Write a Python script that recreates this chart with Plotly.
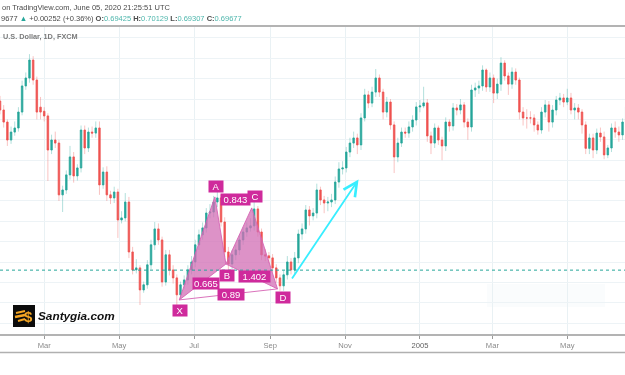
import pandas as pd
import plotly.graph_objects as go

symbol_header = "on TradingView.com, June 05, 2020 21:25:51 UTC"
symbol_name = "U.S. Dollar, 1D, FXCM"

opens = [
.7790,.7746,.7687,.7599,.7638,.7658,.7736,.7864,.7903,.7991,
.7893,.7760,.7740,.7717,.7550,.7599,.7584,.7330,.7354,.7428,
.7516,.7423,.7462,.7648,.7560,.7638,.7633,.7658,.7379,.7442,
.7330,.7315,.7344,.7207,.7217,.7295,.7050,.6962,.6972,.6864,
.6889,.6987,.7085,.7163,.7109,.6903,.7036,.6962,.6923,.6840,
.6889,.6913,.6962,.7001,.7085,.7134,.7168,.7241,.7246,.7295,
.7315,.7197,.7050,.6991,.7036,.7060,.7109,.7148,.7168,.7178,
.7261,.7148,.7036,.7031,.7021,.6972,.6923,.6884,.6938,.7001,
.6962,.7021,.7138,.7163,.7256,.7227,.7241,.7354,.7305,.7290,
.7295,.7305,.7393,.7457,.7462,.7540,.7584,.7609,.7575,.7707,
.7820,.7780,.7834,.7903,.7834,.7736,.7785,.7673,.7516,.7584,
.7638,.7633,.7663,.7697,.7761,.7766,.7781,.7619,.7584,.7658,
.7599,.7570,.7687,.7668,.7756,.7746,.7771,.7687,.7663,.7844,
.7854,.7864,.7942,.7859,.7903,.7829,.7873,.7976,.7913,.7873,
.7932,.7893,.7736,.7707,.7707,.7707,.7673,.7648,.7736,.7771,
.7687,.7746,.7795,.7805,.7785,.7805,.7746,.7756,.7736,.7673,
.7558,.7609,.7550,.7633,.7614,.7526,.7560,.7658,.7638,.7624,
.7687]
highs = [
.7815,.7770,.7700,.7665,.7690,.7760,.7890,.7930,.8020,.8010,
.7910,.7810,.7760,.7730,.7625,.7640,.7600,.7375,.7450,.7570,
.7540,.7480,.7670,.7670,.7660,.7665,.7690,.7690,.7465,.7470,
.7350,.7370,.7360,.7250,.7339,.7320,.7075,.7015,.6985,.6905,
.7010,.7110,.7197,.7190,.7125,.7060,.7060,.6985,.6940,.6905,
.6935,.6985,.7030,.7110,.7160,.7195,.7265,.7285,.7325,.7345,
.7330,.7220,.7075,.7060,.7085,.7135,.7170,.7195,.7215,.7295,
.7275,.7165,.7065,.7050,.7040,.6990,.6940,.6960,.7030,.7020,
.7050,.7160,.7190,.7280,.7275,.7265,.7385,.7370,.7325,.7320,
.7335,.7420,.7490,.7495,.7565,.7610,.7640,.7630,.7730,.7850,
.7840,.7860,.7947,.7920,.7850,.7810,.7800,.7690,.7610,.7660,
.7660,.7690,.7720,.7785,.7795,.7860,.7800,.7640,.7680,.7670,
.7615,.7710,.7700,.7780,.7775,.7800,.7785,.7705,.7870,.7880,
.7890,.7965,.7950,.7930,.7920,.7900,.8005,.7990,.7930,.7955,
.7950,.7905,.7760,.7750,.7740,.7725,.7690,.7760,.7795,.7790,
.7770,.7815,.7830,.7825,.7850,.7830,.7780,.7775,.7750,.7690,
.7630,.7630,.7655,.7660,.7640,.7575,.7680,.7690,.7665,.7705,
.7785]
lows = [
.7725,.7660,.7570,.7580,.7620,.7640,.7720,.7845,.7880,.7870,
.7700,.7700,.7690,.7398,.7530,.7560,.7300,.7246,.7335,.7405,
.7390,.7400,.7440,.7530,.7540,.7610,.7610,.7330,.7360,.7300,
.7285,.7290,.7119,.7190,.7200,.7020,.6940,.6945,.6790,.6850,
.6870,.6965,.7060,.7085,.6880,.6885,.6935,.6895,.6790,.6820,
.6870,.6890,.6940,.6975,.7060,.7110,.7145,.7215,.7220,.7270,
.7175,.7025,.6965,.6965,.7010,.7035,.7085,.7125,.7150,.7155,
.7125,.7010,.7005,.6995,.6950,.6900,.6860,.6860,.6915,.6940,
.6940,.6995,.7110,.7140,.7180,.7205,.7215,.7280,.7240,.7250,
.7270,.7285,.7365,.7430,.7440,.7515,.7560,.7530,.7550,.7690,
.7755,.7760,.7810,.7810,.7700,.7710,.7650,.7437,.7490,.7565,
.7610,.7610,.7640,.7670,.7735,.7755,.7590,.7530,.7560,.7575,
.7500,.7545,.7640,.7645,.7720,.7725,.7660,.7600,.7640,.7810,
.7825,.7840,.7835,.7835,.7780,.7800,.7840,.7890,.7820,.7850,
.7870,.7700,.7670,.7655,.7680,.7640,.7625,.7630,.7710,.7640,
.7660,.7720,.7770,.7760,.7770,.7725,.7700,.7700,.7630,.7530,
.7530,.7510,.7530,.7590,.7505,.7510,.7540,.7610,.7590,.7600,
.7670]
closes = [
.7746,.7687,.7599,.7638,.7658,.7736,.7864,.7903,.7991,.7893,
.7736,.7736,.7717,.7550,.7599,.7584,.7330,.7354,.7428,.7516,
.7423,.7462,.7648,.7560,.7638,.7633,.7658,.7379,.7442,.7330,
.7315,.7344,.7207,.7217,.7295,.7050,.6962,.6972,.6864,.6889,
.6987,.7085,.7163,.7109,.6903,.7036,.6962,.6923,.6840,.6889,
.6913,.6962,.7001,.7085,.7134,.7168,.7241,.7246,.7295,.7315,
.7197,.7050,.6991,.7036,.7060,.7109,.7148,.7168,.7178,.7261,
.7148,.7036,.7031,.7021,.6972,.6923,.6884,.6938,.7001,.6962,
.7021,.7138,.7163,.7256,.7227,.7241,.7354,.7305,.7290,.7295,
.7305,.7393,.7457,.7462,.7540,.7584,.7609,.7575,.7707,.7820,
.7780,.7834,.7903,.7834,.7736,.7785,.7673,.7516,.7584,.7638,
.7633,.7663,.7697,.7761,.7766,.7781,.7619,.7584,.7658,.7599,
.7570,.7687,.7668,.7756,.7746,.7771,.7687,.7663,.7844,.7854,
.7864,.7942,.7859,.7903,.7829,.7873,.7976,.7913,.7873,.7932,
.7893,.7736,.7707,.7707,.7707,.7673,.7648,.7736,.7771,.7687,
.7746,.7795,.7805,.7785,.7805,.7746,.7756,.7736,.7673,.7558,
.7609,.7550,.7633,.7614,.7526,.7560,.7658,.7638,.7624,.7687,
.7761]

tick_dates = ["2004-03-01","2004-05-01","2004-07-01","2004-09-01","2004-11-01","2005-01-01","2005-03-01","2005-05-01"]
tick_labels = ["Mar","May","Jul","Sep","Nov","<span style='color:#5f5f5f'>2005</span>","Mar","May"]

last_price = 0.6961

# harmonic pattern pivots (date, price)
pivot_names = ["X","A","B","C","D"]
pivot_dates = ["2004-06-19","2004-07-18","2004-07-27","2004-08-17","2004-09-07"]
pivot_prices = [0.6815,0.7320,0.6991,0.7266,0.6869]
ratio_labels = ["0.665","0.843","1.402","0.89"]

arrow_dates = ["2004-09-18","2004-11-12"]
arrow_prices = [0.6913,0.7405]

dates = pd.date_range("2004-01-25", periods=len(closes), freq="3D")
GREEN, RED = "#26a69a", "#ef5350"
GREEN_W, RED_W = "rgba(38,166,154,0.35)", "rgba(239,83,80,0.35)"
MAG = "#cf2a9c"
FS = "Liberation Sans"

W, H, T, B = 625, 375, 27, 40
def px(x): return x / W
def py(y): return (H - B - y) / (H - T - B)

fig = go.Figure()
# pale wicks layer
fig.add_trace(go.Candlestick(x=dates, open=opens, high=highs, low=lows, close=closes,
    increasing=dict(line=dict(color=GREEN_W, width=1), fillcolor="rgba(0,0,0,0)"),
    decreasing=dict(line=dict(color=RED_W, width=1), fillcolor="rgba(0,0,0,0)"),
    whiskerwidth=0, hoverinfo="skip", showlegend=False))
# solid bodies layer
top = [max(o, c) for o, c in zip(opens, closes)]
bot = [min(o, c) for o, c in zip(opens, closes)]
fig.add_trace(go.Candlestick(x=dates, open=opens, high=top, low=bot, close=closes,
    increasing=dict(line=dict(color=GREEN, width=0.6), fillcolor=GREEN),
    decreasing=dict(line=dict(color=RED, width=0.6), fillcolor=RED),
    whiskerwidth=0, hoverinfo="skip", showlegend=False))

FILL = "rgba(210,110,180,0.75)"
LINE = "rgba(214,100,180,0.9)"
for idx in ([0, 1, 2, 0], [2, 3, 4, 2]):
    fig.add_trace(go.Scatter(x=[pivot_dates[i] for i in idx], y=[pivot_prices[i] for i in idx],
        mode="lines", line=dict(color=LINE, width=1), fill="toself", fillcolor=FILL,
        hoverinfo="skip", showlegend=False))
fig.add_trace(go.Scatter(x=[pivot_dates[0], pivot_dates[4]], y=[pivot_prices[0], pivot_prices[4]],
    mode="lines", line=dict(color=LINE, width=1), hoverinfo="skip", showlegend=False))

ann = []
def label(text, i, dx, dy, width=None):
    ann.append(dict(x=pivot_dates[i], y=pivot_prices[i], xref="x", yref="y", text=text, showarrow=False,
        xshift=dx, yshift=-dy, bgcolor=MAG, borderpad=1, width=width, height=9,
        font=dict(family=FS, size=9.5, color="#ffffff")))
label("A", 1, 1, -10, 12)
label("C", 3, 3, -11, 12)
label("B", 2, 1, 11, 12)
label("X", 0, 1, 11, 12)
label("D", 4, 5, 9, 12)
label(ratio_labels[0], 2, -20, 19, 24)
label(ratio_labels[1], 1, 21, 3, 27)
label(ratio_labels[2], 4, -23, -12, 29)
label(ratio_labels[3], 4, -47, 6, 24)

ann.append(dict(x=arrow_dates[1], y=arrow_prices[1], ax=arrow_dates[0], ay=arrow_prices[0],
    xref="x", yref="y", axref="x", ayref="y", text="", showarrow=True, arrowhead=5,
    arrowwidth=1.8, arrowsize=1.5, arrowcolor="#38eeff"))

def text(x, y, s, size, color="#555555", xanchor="left", **f):
    ann.append(dict(x=px(x), y=py(y), xref="paper", yref="paper", text=s, showarrow=False,
        xanchor=xanchor, yanchor="middle", font=dict(family=FS, size=size, color=color, **f)))

TEAL = "#4db6ac"
text(0, 8, symbol_header, 7.5, "#4a4a4a")
text(-1, 18.5,
     "9677 <span style='color:%s'>▲</span> +0.00252 (+0.36%%) <b>O:</b><span style='color:%s'>0.69425</span> "
     "<b>H:</b><span style='color:%s'>0.70129</span> <b>L:</b><span style='color:%s'>0.69307</span>"
     " <b>C:</b><span style='color:%s'>0.69677</span>" % (GREEN, TEAL, TEAL, TEAL, TEAL), 7.5, "#4a4a4a")
text(1, 37, "<b>" + symbol_name + "</b>", 7.3, "#7b7b7b")
text(36, 316, "<b><i>Santygia.com</i></b>", 11.8, "#111111")
text(28, 316, "<b>$</b>", 15, "#f5a623", xanchor="center")

ORANGE = "#f5a623"
shapes = [
    dict(type="rect", xref="paper", yref="paper", x0=px(487), x1=px(605), y0=py(307), y1=py(284),
         fillcolor="#fafcfd", line=dict(width=0), layer="below"),
    dict(type="line", xref="paper", yref="y", x0=0, x1=1, y0=last_price, y1=last_price,
         line=dict(color="#26a69a", width=1, dash="dot"), layer="above"),
    dict(type="line", xref="paper", yref="paper", x0=0, x1=1, y0=py(26), y1=py(26),
         line=dict(color="#9a9a9a", width=1.5)),
    dict(type="line", xref="paper", yref="paper", x0=0, x1=1, y0=py(335), y1=py(335),
         line=dict(color="#9a9a9a", width=1.5)),
    dict(type="line", xref="paper", yref="paper", x0=0, x1=1, y0=py(352.5), y1=py(352.5),
         line=dict(color="#b0b0b0", width=1.5)),
    dict(type="rect", xref="paper", yref="paper", x0=px(13), x1=px(35), y0=py(327), y1=py(305),
         fillcolor="#0c0c0c", line=dict(width=0), layer="above"),
    dict(type="line", xref="paper", yref="paper", x0=px(16), x1=px(25), y0=py(313), y1=py(311),
         line=dict(color=ORANGE, width=2), layer="above"),
    dict(type="line", xref="paper", yref="paper", x0=px(15), x1=px(25), y0=py(317), y1=py(315),
         line=dict(color=ORANGE, width=2.5), layer="above"),
    dict(type="line", xref="paper", yref="paper", x0=px(18), x1=px(25), y0=py(321), y1=py(319),
         line=dict(color=ORANGE, width=2), layer="above"),
]

fig.update_layout(
    width=W, height=H, autosize=False, margin=dict(l=0, r=0, t=T, b=B, pad=0),
    paper_bgcolor="#ffffff", plot_bgcolor="#ffffff", showlegend=False,
    boxmode="overlay", boxgap=0.42, annotations=ann, shapes=shapes,
    xaxis=dict(type="date", range=["2004-01-25", "2005-06-17"], tickmode="array", tickvals=tick_dates,
        ticktext=tick_labels, showgrid=True, gridcolor="#e9f1f4", gridwidth=1, ticks="outside", ticklen=3,
        tickcolor="#9a9a9a", tickfont=dict(family=FS, size=7.6, color="#8a8a8a"),
        rangeslider=dict(visible=False), zeroline=False, showline=False),
    yaxis=dict(range=[0.6643, 0.8153], tick0=0.68, dtick=0.01, showgrid=True, gridcolor="#edf3f6",
        gridwidth=1, showticklabels=False, ticks="", zeroline=False, showline=False),
)
fig.write_html("out.html", config=dict(displayModeBar=False),
    post_script="document.body.style.margin='0';document.body.style.overflow='hidden';document.body.style.filter='blur(0.45px)';")
